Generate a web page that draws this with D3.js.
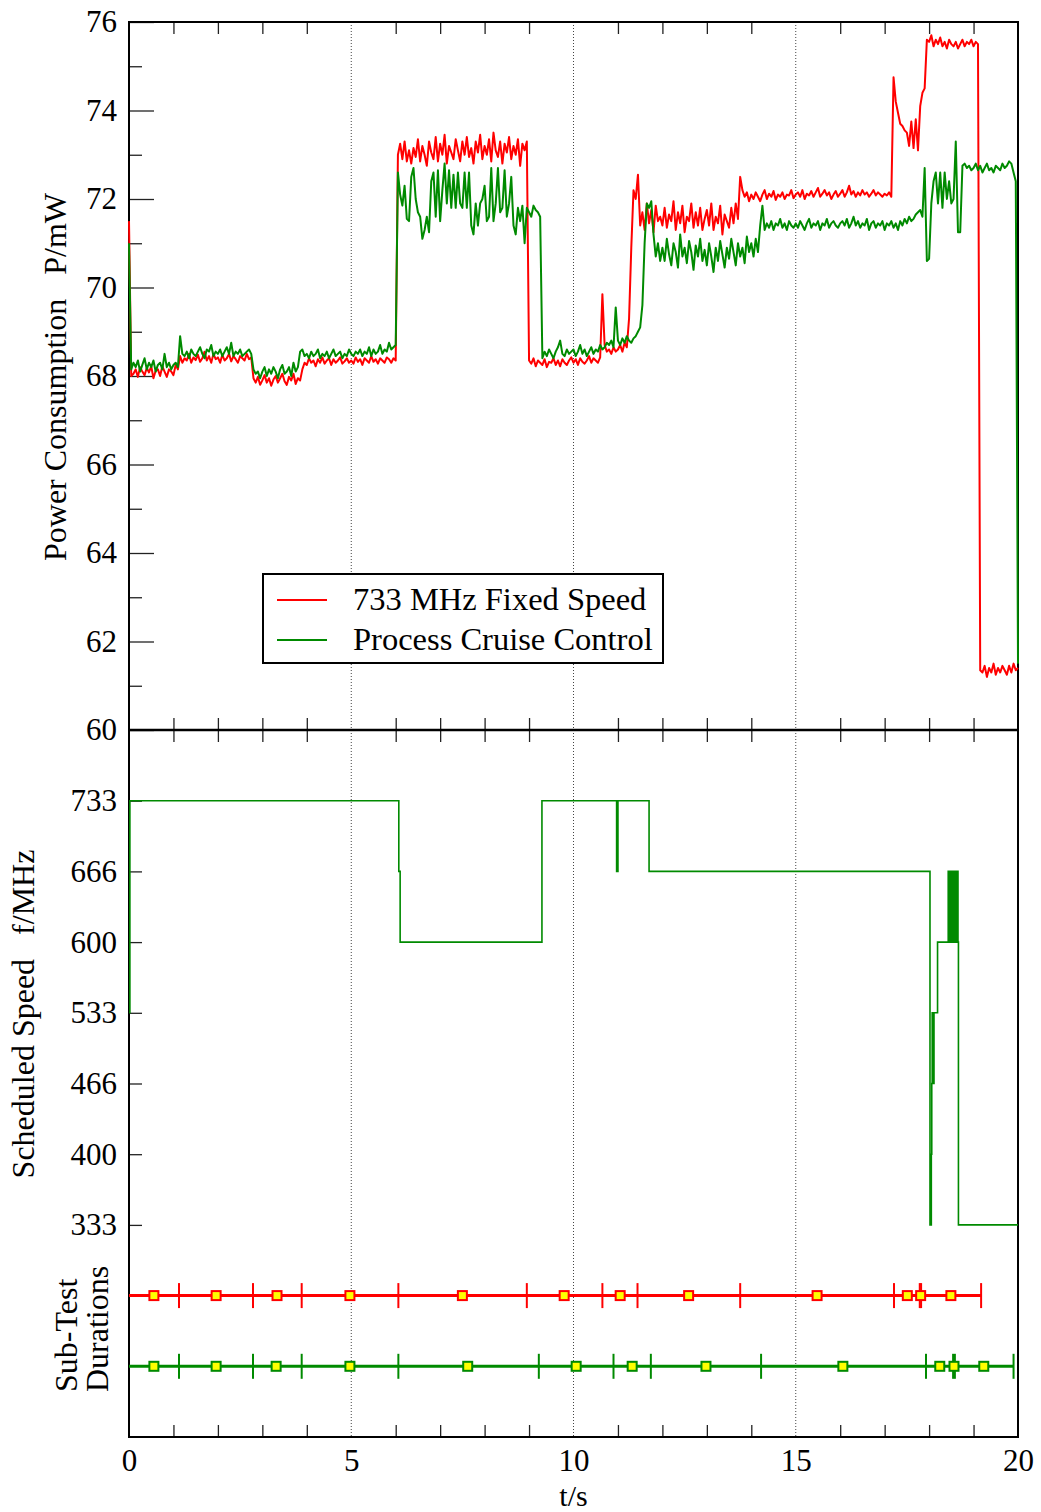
<!DOCTYPE html>
<html>
<head>
<meta charset="utf-8">
<script src="https://cdn.jsdelivr.net/npm/d3@7"></script>
<style>
body { margin: 0; background: #fff; }
svg text { font-family: "Liberation Serif", "Times New Roman", serif; fill: #000; }
</style>
</head>
<body>
<div id="chart"></div>
<script>
// power samples, one every 0.05 s from 0 to 20 s (one row = 1 s)
var sampleStep = 0.05;

var fixedPower = [
  71.5, 68.0, 68.05, 68.15, 67.98, 68.2, 68.1, 68.02, 68.18, 68.08, 68.22, 67.95, 68.12, 68.15, 68.0, 68.22, 68.1, 67.98, 68.15, 68.1,
  68.02, 68.25, 68.15, 68.45, 68.3, 68.4, 68.35, 68.5, 68.3, 68.42, 68.36, 68.48, 68.32, 68.4, 68.55, 68.35, 68.45, 68.3, 68.5, 68.38,
  68.42, 68.3, 68.48, 68.35, 68.4, 68.5, 68.33, 68.45, 68.38, 68.3, 68.45, 68.4, 68.35, 68.5, 68.38, 68.42, 67.95, 67.85, 67.98, 67.8,
  67.9, 68.02, 67.85, 67.95, 67.78, 67.92, 68.0, 67.85, 67.95, 68.05, 67.88, 67.8, 67.98, 67.9, 68.05, 67.82, 67.95, 67.9, 68.15, 68.3,
  68.25, 68.4, 68.3, 68.35, 68.22, 68.38, 68.3, 68.42, 68.28, 68.35, 68.4, 68.25, 68.38, 68.3, 68.35, 68.42, 68.28, 68.33, 68.4, 68.3,
  68.35, 68.28, 68.42, 68.32, 68.38, 68.25, 68.4, 68.35, 68.3, 68.45, 68.32, 68.38, 68.28, 68.4, 68.35, 68.3, 68.42, 68.38, 68.3, 68.4,
  68.35, 73.0, 73.25, 72.9, 73.3, 72.85, 73.1, 72.8, 73.15, 72.95, 73.35, 72.85, 73.2, 73.0, 72.75, 73.3, 73.05, 72.9, 73.4, 72.85,
  73.25, 73.0, 73.45, 72.8, 73.2, 73.05, 72.9, 73.35, 73.1, 72.85, 73.3, 73.0, 73.4, 72.95, 73.15, 72.8, 73.3, 73.05, 73.45, 72.9,
  73.2, 73.0, 73.35, 72.85, 73.5, 73.1, 72.95, 73.3, 72.8, 73.25, 73.05, 73.4, 72.9, 73.2, 73.0, 73.35, 72.75, 73.25, 73.1, 73.3,
  68.35, 68.28, 68.4, 68.22, 68.35, 68.3, 68.25, 68.38, 68.2, 68.32, 68.3, 68.4, 68.25, 68.35, 68.22, 68.38, 68.3, 68.25, 68.35, 68.42,
  68.3, 68.38, 68.25, 68.4, 68.32, 68.28, 68.35, 68.45, 68.3, 68.4, 68.35, 68.3, 68.42, 69.85, 68.7, 68.55, 68.6, 68.5, 68.65, 68.55,
  68.6, 68.7, 68.55, 68.75, 68.65, 69.3, 70.9, 72.2, 72.0, 72.55, 71.4, 71.7, 71.3, 71.9, 71.45, 71.75, 71.25, 71.85, 71.5, 71.6,
  71.4, 71.8, 71.35, 71.65, 71.5, 71.95, 71.3, 71.7, 71.45, 71.85, 71.25, 71.6, 71.5, 71.9, 71.35, 71.7, 71.4, 71.8, 71.3, 71.55,
  71.75, 71.4, 71.9, 71.3, 71.6, 71.45, 71.85, 71.2, 71.65, 71.5, 71.35, 71.8, 71.45, 71.9, 71.55, 72.5, 72.2, 72.05, 72.15, 71.95,
  72.1, 72.0, 72.15, 72.05, 71.95, 72.1, 72.2, 72.0, 72.12, 72.05, 72.18, 71.98, 72.1, 72.05, 72.15, 72.0, 72.1, 72.08, 72.2, 72.02,
  72.1, 72.15, 72.05, 72.2, 72.0, 72.12, 72.08, 72.18, 72.05, 72.15, 72.25, 72.05, 72.12, 72.2, 72.08, 72.15, 72.0, 72.1, 72.18, 72.05,
  72.12, 72.2, 72.05, 72.15, 72.3, 72.1, 72.18, 72.05, 72.15, 72.08, 72.2, 72.1, 72.15, 72.05, 72.12, 72.2, 72.08, 72.15, 72.1, 72.05,
  72.12, 72.08, 72.15, 72.05, 74.75, 74.2, 73.95, 73.7, 73.65, 73.55, 73.5, 73.2, 73.75, 73.15, 73.8, 73.1, 74.1, 74.4, 74.5, 75.6,
  75.55, 75.7, 75.45, 75.6, 75.5, 75.65, 75.45, 75.55, 75.4, 75.6, 75.5, 75.45, 75.55, 75.4, 75.5, 75.6, 75.45, 75.55, 75.5, 75.6,
  75.45, 75.55, 75.5, 61.35, 61.3, 61.45, 61.2, 61.4, 61.3, 61.5, 61.25, 61.4, 61.3, 61.45, 61.35, 61.25, 61.45, 61.3, 61.5, 61.35,
  61.4
];

var cruisePower = [
  71.0, 68.15, 68.3, 68.2, 68.35, 68.1, 68.25, 68.4, 68.15, 68.3, 68.2, 68.35, 68.1, 68.25, 68.3, 68.15, 68.5, 68.2, 68.3, 68.15,
  68.25, 68.3, 68.2, 68.9, 68.5, 68.45, 68.55, 68.4, 68.6, 68.5, 68.45, 68.55, 68.65, 68.5, 68.4, 68.6, 68.55, 68.7, 68.45, 68.55,
  68.5, 68.6, 68.45, 68.55, 68.65, 68.5, 68.75, 68.45, 68.55, 68.5, 68.6, 68.45, 68.5, 68.55, 68.6, 68.5, 68.15, 68.05, 68.1, 67.95,
  68.1, 68.2, 68.0, 68.15, 68.05, 68.2, 68.1, 67.95, 68.15, 68.25, 68.05, 68.1, 68.2, 68.0, 68.3, 68.1, 68.2, 68.55, 68.6, 68.45,
  68.5, 68.4, 68.55, 68.45, 68.5, 68.6, 68.4, 68.5, 68.45, 68.55, 68.4, 68.5, 68.6, 68.45, 68.5, 68.55, 68.4, 68.5, 68.45, 68.6,
  68.5, 68.45, 68.55, 68.5, 68.6, 68.45, 68.55, 68.5, 68.65, 68.45, 68.6, 68.5, 68.55, 68.7, 68.5, 68.6, 68.55, 68.75, 68.6, 68.65,
  68.7, 72.6, 72.1, 71.85, 72.3, 71.55, 71.5, 72.5, 72.7, 72.0, 71.7, 71.6, 71.1, 71.3, 71.6, 71.25, 72.4, 72.6, 71.6, 72.65,
  71.5, 72.2, 72.8, 71.9, 72.65, 71.8, 72.55, 71.8, 72.6, 71.9, 71.8, 72.6, 71.8, 72.6, 71.4, 71.2, 71.9, 71.4, 71.9, 72.0,
  72.3, 71.5, 71.6, 72.7, 71.5, 71.9, 72.7, 71.7, 71.8, 72.65, 71.6, 71.9, 72.5, 71.4, 71.2, 71.8, 71.5, 71.85, 71.0, 71.8,
  71.7, 71.6, 71.85, 71.75, 71.7, 71.6, 68.4, 68.55, 68.45, 68.6, 68.5, 68.4, 68.55, 68.65, 68.8, 68.5, 68.45, 68.6, 68.5, 68.55,
  68.6, 68.45, 68.55, 68.7, 68.5, 68.6, 68.45, 68.55, 68.65, 68.5, 68.6, 68.55, 68.7, 68.6, 68.65, 68.75, 68.7, 68.8, 68.65, 69.55,
  68.8, 68.7, 68.85, 68.75, 68.9, 68.8, 68.75, 68.85, 68.9, 69.0, 69.1, 69.6, 71.0, 71.9, 71.8, 71.95, 71.2, 70.7, 71.0, 70.6,
  70.9, 70.6, 71.1, 70.75, 70.5, 71.0, 70.8, 70.45, 71.2, 70.7, 70.9, 70.55, 71.05, 70.8, 70.4, 70.95, 70.7, 71.1, 70.6, 70.85,
  70.5, 71.0, 70.7, 70.35, 70.9, 70.6, 71.05, 70.75, 70.45, 70.9, 70.65, 71.1, 70.8, 70.5, 71.0, 70.7, 70.9, 70.55, 71.15, 70.8,
  71.0, 70.7, 71.1, 70.8, 71.4, 71.85, 71.3, 71.45, 71.35, 71.5, 71.3, 71.45, 71.4, 71.55, 71.35, 71.45, 71.3, 71.5, 71.4, 71.35,
  71.45, 71.35, 71.5, 71.4, 71.3, 71.45, 71.55, 71.35, 71.45, 71.4, 71.5, 71.3, 71.45, 71.4, 71.55, 71.35, 71.45, 71.5, 71.4, 71.35,
  71.45, 71.5, 71.4, 71.55, 71.35, 71.45, 71.6, 71.4, 71.5, 71.35, 71.45, 71.4, 71.55, 71.3, 71.45, 71.5, 71.35, 71.45, 71.4, 71.5,
  71.3, 71.45, 71.4, 71.5, 71.35, 71.45, 71.3, 71.5, 71.4, 71.55, 71.45, 71.6, 71.5, 71.55, 71.65, 71.7, 71.75, 71.6, 72.7, 70.6,
  70.65, 71.9, 72.4, 72.6, 71.9, 72.6, 71.8, 72.6, 72.0, 72.4, 71.9, 72.0, 73.3, 71.25, 71.25, 72.75, 72.8, 72.7, 72.75, 72.65,
  72.7, 72.8, 72.65, 72.75, 72.6, 72.7, 72.8, 72.65, 72.7, 72.6, 72.75, 72.7, 72.65, 72.8, 72.7, 72.75, 72.85, 72.8, 72.6, 72.4,
  61.5
];

// scheduled speed of Process Cruise Control (step changes)
var speedTimes = [0, 0.02, 6.07, 6.1, 9.29, 10.97, 11.0, 11.7, 18.02, 18.03, 18.04, 18.05, 18.06, 18.07, 18.08, 18.09, 18.1, 18.11,
  18.19, 18.43, 18.45, 18.47, 18.49, 18.51, 18.53, 18.55, 18.57, 18.59, 18.61, 18.63, 18.65, 18.66, 20];
var speedValues = [533.33, 733.33, 666.67, 600, 733.33, 666.67, 733.33, 666.67, 333.33, 400, 333.33, 400, 466.67, 533.33, 466.67, 533.33, 466.67, 533.33,
  600, 666.67, 600, 666.67, 600, 666.67, 600, 666.67, 600, 666.67, 600, 666.67, 600, 333.33, 333.33];

var powerTicks = [60, 62, 64, 66, 68, 70, 72, 74, 76];
var powerMinorTicks = [61, 63, 65, 67, 69, 71, 73, 75];
var speedTicks = [733.33, 666.67, 600, 533.33, 466.67, 400, 333.33];
var speedTickLabels = ["733", "666", "600", "533", "466", "400", "333"];
var timeLabels = [0, 5, 10, 15, 20];
var timeMinorTicks = [1, 2, 3, 4, 6, 7, 8, 9, 11, 12, 13, 14, 16, 17, 18, 19];
var gridTimes = [5, 10, 15];

// sub-test boundaries and mid points (s)
var fixedBounds = [0, 1.125, 2.79, 3.885, 6.06, 8.95, 10.65, 11.44, 13.75, 17.21, 17.79, 17.82, 19.17];
var fixedMids = [0.56, 1.96, 3.33, 4.97, 7.5, 9.79, 11.05, 12.59, 15.48, 17.51, 17.81, 18.49];
var cruiseBounds = [0, 1.125, 2.79, 3.885, 6.06, 9.22, 10.9, 11.74, 14.22, 17.93, 18.54, 18.58, 19.9];
var cruiseMids = [0.56, 1.96, 3.31, 4.97, 7.62, 10.06, 11.32, 12.98, 16.06, 18.24, 18.56, 19.23];

var seriesNames = ["733 MHz Fixed Speed", "Process Cruise Control"];
var seriesColors = ["#ff0000", "#008a00"];

var svg = d3.select("#chart").append("svg")
  .attr("width", 1041)
  .attr("height", 1512);

var x = d3.scaleLinear().domain([0, 20]).range([129, 1018]);
var yPower = d3.scaleLinear().domain([60, 76]).range([730, 22]);
var ySpeed = d3.scaleLinear().domain([133.33, 800]).range([1437, 730]);

const noDomain = g => g.select(".domain").remove();

// dotted grid lines
svg.append("g").selectAll("line")
  .data(gridTimes)
  .enter().append("line")
    .attr("x1", d => x(d)).attr("x2", d => x(d))
    .attr("y1", 22).attr("y2", 1437)
    .attr("stroke", "#444")
    .attr("stroke-width", 1)
    .attr("stroke-dasharray", "1,2");

// power axis
svg.append("g")
  .attr("transform", "translate(129,0)")
  .call(d3.axisLeft(yPower).tickValues(powerTicks).tickSize(-25).tickPadding(12).tickFormat(d3.format("d")))
  .call(noDomain);
svg.append("g")
  .attr("transform", "translate(129,0)")
  .call(d3.axisLeft(yPower).tickValues(powerMinorTicks).tickSize(-13).tickFormat(""))
  .call(noDomain);

// speed axis
svg.append("g")
  .attr("transform", "translate(129,0)")
  .call(d3.axisLeft(ySpeed).tickValues(speedTicks).tickSize(-13).tickPadding(12)
    .tickFormat((d, i) => speedTickLabels[i]))
  .call(noDomain);

// time ticks: top edge, middle line (both sides), bottom edge
svg.append("g")
  .attr("transform", "translate(0,22)")
  .call(d3.axisTop(x).tickValues(timeMinorTicks).tickSize(-12).tickFormat(""))
  .call(noDomain);
svg.append("g")
  .attr("transform", "translate(0,730)")
  .call(d3.axisTop(x).tickValues(timeMinorTicks).tickSize(12).tickFormat(""))
  .call(noDomain);
svg.append("g")
  .attr("transform", "translate(0,730)")
  .call(d3.axisBottom(x).tickValues(timeMinorTicks).tickSize(12).tickFormat(""))
  .call(noDomain);
svg.append("g")
  .attr("transform", "translate(0,1437)")
  .call(d3.axisBottom(x).tickValues(timeMinorTicks).tickSize(-12).tickFormat(""))
  .call(noDomain);
var xLabels = svg.append("g")
  .attr("transform", "translate(0,1437)")
  .call(d3.axisBottom(x).tickValues(timeLabels).tickSize(0).tickFormat(d3.format("d")))
  .call(noDomain);
xLabels.selectAll("text").attr("y", 34).attr("dy", null);

svg.selectAll(".tick line").attr("stroke", "#222").attr("stroke-width", 1.3);
svg.selectAll(".tick text").style("font-size", "31px").attr("fill", "#000");

// frame
svg.append("rect")
  .attr("x", x(0)).attr("y", yPower(76))
  .attr("width", x(20) - x(0)).attr("height", ySpeed(133.33) - yPower(76))
  .attr("fill", "none").attr("stroke", "#000").attr("stroke-width", 2);
svg.append("line")
  .attr("x1", x(0)).attr("x2", x(20))
  .attr("y1", yPower(60)).attr("y2", yPower(60))
  .attr("stroke", "#000").attr("stroke-width", 2.5);

// power lines
var powerLine = d3.line()
  .x((d, i) => x(i * sampleStep))
  .y(d => yPower(d));
[fixedPower, cruisePower].forEach((series, k) => {
  svg.append("path")
    .datum(series)
    .attr("d", powerLine)
    .attr("fill", "none")
    .attr("stroke", seriesColors[k])
    .attr("stroke-width", 2)
    .attr("stroke-linejoin", "round");
});

// scheduled speed
var speedLine = d3.line()
  .curve(d3.curveStepAfter)
  .x((d, i) => x(speedTimes[i]))
  .y(d => ySpeed(d));
svg.append("path")
  .datum(speedValues)
  .attr("d", speedLine)
  .attr("fill", "none")
  .attr("stroke", seriesColors[1])
  .attr("stroke-width", 1.6);

// sub-test durations
function drawSubTests(bounds, mids, rowValue, color) {
  var yRow = ySpeed(rowValue);
  var g = svg.append("g");
  g.append("line")
    .attr("x1", x(bounds[0])).attr("x2", x(bounds[bounds.length - 1]))
    .attr("y1", yRow).attr("y2", yRow)
    .attr("stroke", color).attr("stroke-width", 3);
  g.selectAll(".bound")
    .data(bounds.slice(1))
    .enter().append("line")
      .attr("class", "bound")
      .attr("x1", d => x(d)).attr("x2", d => x(d))
      .attr("y1", yRow - 12.5).attr("y2", yRow + 12.5)
      .attr("stroke", color).attr("stroke-width", 2);
  g.selectAll(".mid")
    .data(mids)
    .enter().append("rect")
      .attr("class", "mid")
      .attr("x", d => x(d) - 4.5).attr("y", yRow - 4.5)
      .attr("width", 9).attr("height", 9)
      .attr("fill", "#ffff00")
      .attr("stroke", color).attr("stroke-width", 2);
}
drawSubTests(fixedBounds, fixedMids, 266.67, seriesColors[0]);
drawSubTests(cruiseBounds, cruiseMids, 200, seriesColors[1]);

// legend
var legend = svg.append("g").attr("transform", "translate(263,574)");
legend.append("rect")
  .attr("width", 400).attr("height", 89)
  .attr("fill", "#fff").attr("stroke", "#000").attr("stroke-width", 2);
seriesNames.forEach((name, k) => {
  var ly = 26 + k * 40;
  legend.append("line")
    .attr("x1", 14).attr("x2", 64)
    .attr("y1", ly).attr("y2", ly)
    .attr("stroke", seriesColors[k]).attr("stroke-width", 2);
  legend.append("text")
    .attr("x", 90).attr("y", ly + 10)
    .style("font-size", "32.5px")
    .text(name);
});

// axis titles
svg.append("text")
  .attr("transform", "translate(66,377) rotate(-90)")
  .attr("text-anchor", "middle")
  .style("font-size", "32px")
  .text("Power Consumption\u00a0\u00a0\u00a0P/mW");
svg.append("text")
  .attr("transform", "translate(34,1014) rotate(-90)")
  .attr("text-anchor", "middle")
  .style("font-size", "32px")
  .text("Scheduled Speed\u00a0\u00a0\u00a0f/MHz");
svg.append("text")
  .attr("transform", "translate(77,1392) rotate(-90)")
  .style("font-size", "32px")
  .text("Sub-Test");
svg.append("text")
  .attr("transform", "translate(108,1392) rotate(-90)")
  .style("font-size", "32px")
  .text("Durations");
svg.append("text")
  .attr("x", x(10)).attr("y", 1506)
  .attr("text-anchor", "middle")
  .style("font-size", "30px")
  .text("t/s");
</script>
</body>
</html>
